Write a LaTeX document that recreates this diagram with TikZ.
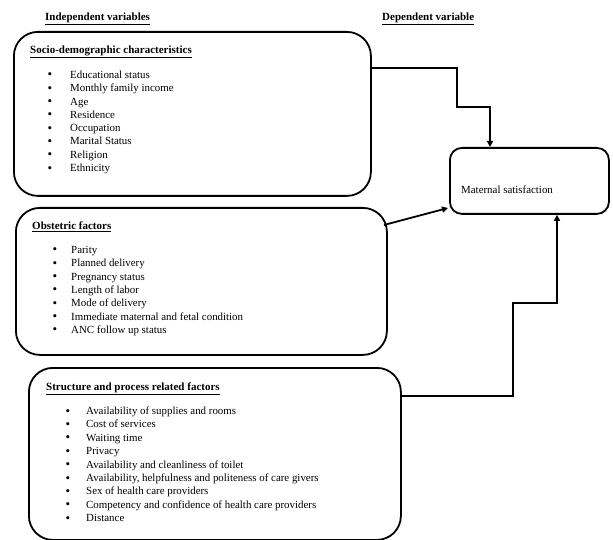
\documentclass[tikz,border=0pt]{standalone}
\usepackage{fontspec}
\setmainfont{Liberation Serif}
\usetikzlibrary{arrows.meta}
\begin{document}
\begin{tikzpicture}[x=1pt,y=-1pt,
 box/.style={draw, line width=1.8pt, rounded corners=24pt, anchor=north west, inner sep=0pt},
 txt/.style={anchor=base west, inner sep=0pt, font=\fontsize{10.9}{12}\selectfont},
 ttl/.style={anchor=base west, inner sep=0pt, font=\fontsize{11}{12}\selectfont\bfseries},
 bul/.style={anchor=base, inner sep=0pt, font=\fontsize{13}{14}\selectfont},
 arr/.style={line width=1.8pt, -{Triangle[length=6pt,width=6pt]}}]
\clip (0,0) rectangle (613,540);
\useasboundingbox (0,0) rectangle (613,540);
% headings
\node[ttl] (hind) at (45,20.5) {\underline{Independent variables}};
\node[ttl] (hdep) at (382,20.5) {\underline{Dependent variable}};
% boxes
\node[box, minimum width=357pt, minimum height=164pt] (socio) at (13,31) {};
\node[box, minimum width=371pt, minimum height=147pt] (obst) at (15,207) {};
\node[box, minimum width=372pt, minimum height=172pt] (struct) at (28,367) {};
\node[box, rounded corners=12pt, minimum width=159pt, minimum height=66pt] (mat) at (449,147) {};
% socio
\node[ttl] (st) at (30,53.5) {\underline{Socio-demographic characteristics}};
\foreach [count=\i] \t in {Educational status, Monthly family income, Age, Residence, Occupation, Marital Status, Religion, Ethnicity}{
  \node[bul] (sb\i) at (50,{79+13.3*(\i-1)}) {•};
  \node[txt] (s\i) at (70,{78.5+13.3*(\i-1)}) {\t};
}
% obstetric
\node[ttl] (ot) at (32,229.5) {\underline{Obstetric factors}};
\foreach [count=\i] \t in {Parity, Planned delivery, Pregnancy status, Length of labor, Mode of delivery, Immediate maternal and fetal condition, ANC follow up status}{
  \node[bul] (ob\i) at (55,{254+13.3*(\i-1)}) {•};
  \node[txt] (o\i) at (71,{253.5+13.3*(\i-1)}) {\t};
}
% structure
\node[ttl] (tt) at (46,390.5) {\underline{Structure and process related factors}};
\foreach [count=\i] \t in {Availability of supplies and rooms, Cost of services, Waiting time, Privacy, Availability and cleanliness of toilet, {Availability, helpfulness and politeness of care givers}, Sex of health care providers, Competency and confidence of health care providers, Distance}{
  \node[bul] (tb\i) at (68,{415+13.4*(\i-1)}) {•};
  \node[txt] (t\i) at (86,{414.5+13.4*(\i-1)}) {\t};
}
% maternal
\node[txt] (mt) at (461,193.5) {Maternal satisfaction};
% connectors
\coordinate (c1) at (457,68);
\coordinate (c2) at (490,107);
\draw[arr] (socio.east |- c1) -- (c1) -- (c1 |- c2) -- (c2) -- (c2 |- mat.north);
\coordinate (o1) at (384,225);
\coordinate (m1) at (448,208);
\draw[arr] (o1) -- (m1);
\coordinate (d1) at (513,396);
\coordinate (d2) at (557,303);
\draw[arr] (struct.east |- d1) -- (d1) -- (d1 |- d2) -- (d2) -- (d2 |- mat.south);
\end{tikzpicture}
\end{document}
